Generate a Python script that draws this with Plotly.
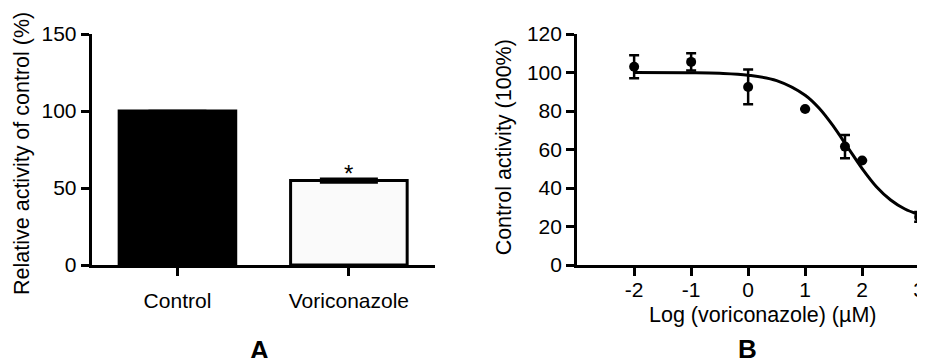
import plotly.graph_objects as go

# ---- Panel A data ----
bar_categories = ["Control", "Voriconazole"]
bar_values = [100, 54.8]
bar_errors = [0, 1.2]
bar_colors = ["#000000", "#fafafa"]

# ---- Panel B data ----
log_conc = [-2, -1, 0, 1, 1.699, 2, 3]
activity = [103, 105.5, 92.5, 81, 61.5, 54.3, 25]
activity_err = [6, 4.5, 9, 0, 6, 0, 2.5]

# fitted curve
curve_x = [-2, -1, -0.5, 0, 0.5, 1, 1.25, 1.5, 1.75, 2, 2.25, 2.5, 2.75, 3]
curve_y = [100, 99.9, 99.6, 98.6, 95.8, 88.2, 81.3, 71.9, 61, 50.1, 40.7, 33.8, 29.1, 26.2]

b_tickvals = [-2, -1, 0, 1, 2, 3]
b_ticktext = ["-2", "-1", "0", "1", "2", "3"]
a_yticks = [0, 50, 100, 150]
b_yticks = [0, 20, 40, 60, 80, 100, 120]

# page offset of the figure inside the window (body margin)
OFF = 8
W, H = 925 - OFF, 358 - OFF
T = 34 - OFF
PB = 265 - OFF          # plot bottom in figure pixels
B = H - PB
FONT = "Liberation Sans, Arial, sans-serif"
FS = 21
TFS = 21.5


def fx(px):
    return (px - OFF) / W


def fy(py):
    return (PB - (py - OFF)) / (PB - T)


fig = go.Figure()

fig.add_trace(go.Bar(
    x=bar_categories, y=bar_values, width=0.68,
    marker=dict(color=bar_colors, line=dict(color="black", width=3)),
    error_y=dict(type="data", array=bar_errors, visible=True, color="black",
                 thickness=2.5, width=29),
    xaxis="x", yaxis="y", showlegend=False,
))

fig.add_trace(go.Scatter(
    x=curve_x, y=curve_y, mode="lines", line=dict(color="black", width=3, shape="spline"),
    xaxis="x2", yaxis="y2", showlegend=False, cliponaxis=False,
))

fig.add_trace(go.Scatter(
    x=log_conc, y=activity, mode="markers",
    marker=dict(color="black", size=10),
    error_y=dict(type="data", array=activity_err, visible=True, color="black",
                 thickness=2.5, width=5),
    xaxis="x2", yaxis="y2", showlegend=False, cliponaxis=False,
))

axis_common = dict(
    showline=True, linecolor="black", linewidth=3,
    ticks="outside", ticklen=8, tickwidth=3, tickcolor="black",
    showgrid=False, zeroline=False,
    tickfont=dict(family=FONT, size=FS, color="black"),
)

fig.update_layout(
    width=W, height=H,
    margin=dict(l=0, r=0, t=T, b=B),
    plot_bgcolor="white", paper_bgcolor="white",
    xaxis=dict(domain=[fx(92), fx(436)], range=[-0.5, 1.5], type="category",
               ticklabelstandoff=7, **axis_common),
    yaxis=dict(range=[0, 150], tickvals=a_yticks, anchor="x", **axis_common),
    xaxis2=dict(domain=[fx(579), 1.0], range=[-3, 3.05], tickvals=b_tickvals,
                ticktext=b_ticktext, anchor="y2", ticklabeloverflow="allow",
                ticklabelstandoff=-4, **axis_common),
    yaxis2=dict(range=[0, 120], tickvals=b_yticks, anchor="x2", **axis_common),
)

ann_font = dict(family=FONT, size=TFS, color="black")
fig.add_annotation(text="Relative activity of control (%)", x=fx(22), y=fy(153), xref="paper",
                   yref="paper", textangle=-90, showarrow=False, font=ann_font,
                   xanchor="center", yanchor="middle")
fig.add_annotation(text="Control activity (100%)", x=fx(506), y=fy(147), xref="paper",
                   yref="paper", textangle=-90, showarrow=False, font=ann_font,
                   xanchor="center", yanchor="middle")
fig.add_annotation(text="Log (voriconazole) (µM)", x=fx(765), y=fy(315), xref="paper",
                   yref="paper", showarrow=False, font=ann_font,
                   xanchor="center", yanchor="middle")
fig.add_annotation(text="*", x="Voriconazole", y=bar_values[1] + bar_errors[1], xref="x", yref="y",
                   showarrow=False, font=dict(family=FONT, size=24, color="black"),
                   yanchor="bottom", yshift=-10)
fig.add_annotation(text="<b>A</b>", x=fx(260), y=fy(350), xref="paper", yref="paper",
                   showarrow=False, font=dict(family=FONT, size=26, color="black"),
                   xanchor="center", yanchor="middle")
fig.add_annotation(text="<b>B</b>", x=fx(750), y=fy(349), xref="paper", yref="paper",
                   showarrow=False, font=dict(family=FONT, size=26, color="black"),
                   xanchor="center", yanchor="middle")

fig.write_html("out.html")
